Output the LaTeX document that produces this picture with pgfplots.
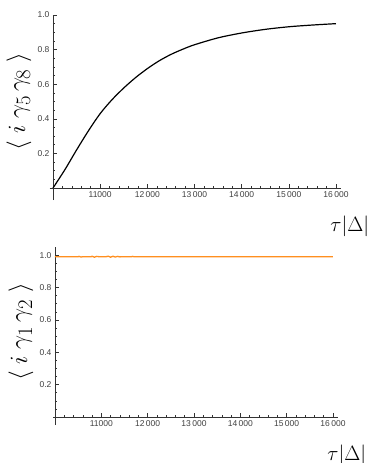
\documentclass[border=0pt]{standalone}
\usepackage{fontspec}
\setmainfont{Liberation Sans}
\usepackage{pgfplots}
\pgfplotsset{compat=1.18}

\definecolor{axiscol}{gray}{0.2}
\definecolor{mmaorange}{rgb}{1.0,0.56,0.12}

\pgfplotsset{mma/.style={
  scale only axis, clip=false,
  axis lines*=left,
  axis line style={axiscol, line width=0.6pt},
  xmin=10000, xmax=16100, ymin=0,
  scaled x ticks=false, scaled y ticks=false,
  xtick={10000,11000,...,16000},
  xticklabels={,11000,12\,000,13\,000,14\,000,15\,000,16\,000},
  ytick={0,0.2,0.4,0.6,0.8,1.0},
  yticklabels={,0.2,0.4,0.6,0.8,1.0},
  minor x tick num=4, minor y tick num=3,
  tick align=inside,
  major tick length=4pt, minor tick length=2pt,
  tick style={axiscol, line width=0.5pt},
  tick label style={font=\fontsize{8.5}{8.5}\selectfont, text=black!75},
  xlabel style={at={(axis description cs:1,0)}, anchor=north east,
                xshift=32pt, yshift=-24pt, font=\fontsize{20}{20}\selectfont},
  ylabel style={at={(axis description cs:0,0.5)}, anchor=center, rotate=0,
                yshift=34pt, font=\fontsize{29}{29}\selectfont},
}}

\begin{document}
\begin{tikzpicture}
\path[use as bounding box] (-53pt,188pt) rectangle (321pt,-275pt);

% top panel
\begin{axis}[mma, width=287.7pt, height=173pt, ymax=1.0,
    xlabel={$\tau|\Delta|$},
    ylabel={$\langle\; i\;\gamma_{5}\,\gamma_{8}\;\rangle$}]
\addplot[black, line width=1.2pt, smooth] coordinates {
 (10000,0) (10250,0.105) (10500,0.22) (10750,0.33) (11000,0.43)
 (11250,0.51) (11500,0.578) (11750,0.638) (12000,0.69) (12250,0.735)
 (12500,0.772) (12750,0.802) (13000,0.828) (13500,0.868) (14000,0.896)
 (14500,0.917) (15000,0.932) (15500,0.942) (16000,0.95)};
\draw[axiscol, line width=0.6pt] (axis cs:9930,0) -- (axis cs:10000,0);
\draw[axiscol, line width=0.6pt] (axis cs:10000,-0.07) -- (axis cs:10000,0);
\end{axis}

% bottom panel
\begin{axis}[mma, at={(2pt,-229pt)}, width=282.6pt, height=170pt, ymax=1.05,
    xlabel={$\tau|\Delta|$},
    ylabel={$\langle\; i\;\gamma_{1}\,\gamma_{2}\;\rangle$}]
\addplot[mmaorange, line width=1.3pt] coordinates {
 (10000,0.99) (10500,0.99) (10520,0.992) (10560,0.988) (10600,0.99)
 (10780,0.99) (10800,0.993) (10850,0.987) (10900,0.992) (10950,0.99)
 (11100,0.99) (11150,0.993) (11200,0.987) (11250,0.993) (11300,0.988)
 (11350,0.992) (11400,0.989) (11450,0.99) (11650,0.99) (11680,0.992)
 (11700,0.99) (16000,0.99)};
\draw[axiscol, line width=0.6pt] (axis cs:9960,0) -- (axis cs:10000,0);
\draw[axiscol, line width=0.6pt] (axis cs:10000,-0.05) -- (axis cs:10000,0);
\end{axis}
\end{tikzpicture}
\end{document}
